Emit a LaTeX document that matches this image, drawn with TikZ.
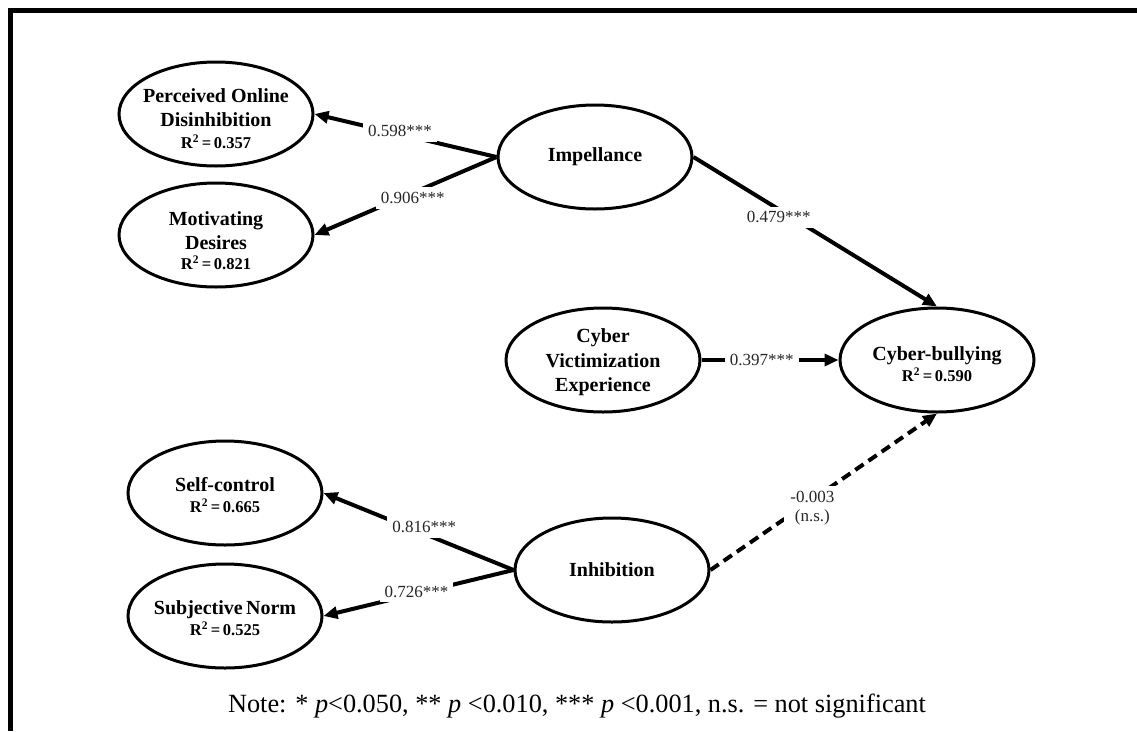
\documentclass[tikz,border=0pt]{standalone}
\usepackage{fontspec}
\setmainfont{Liberation Serif}
\usetikzlibrary{shapes.geometric,arrows.meta}
\newcommand\Rsqline[1]{{\fontsize{16.5}{20}\selectfont R\textsuperscript{2}\,=\,#1}}
\begin{document}
\begin{tikzpicture}[x=1pt,y=-1pt,
  lv/.style={ellipse, draw, line width=3pt, minimum width=194pt, minimum height=104pt, inner sep=0pt},
  lvtext/.style={font=\fontsize{20}{24}\selectfont\bfseries, align=center, inner sep=0pt},
  arr/.style={line width=4pt, -{Triangle[length=14pt,width=12pt]}},
  darr/.style={arr, dash pattern=on 10pt off 6pt},
  elabel/.style={font=\fontsize{17}{19}\selectfont, fill=white, inner sep=5pt, text=black!85, align=center},
  note/.style={font=\fontsize{26.3}{30}\selectfont, anchor=base, inner sep=0pt}
]
\useasboundingbox (0,0) rectangle (1137,731);
\draw[line width=4.4pt] (10.5,731) -- (10.5,10.5) -- (1137,10.5);

\node[lv, label={[lvtext, yshift=-5pt]center:Perceived Online\\Disinhibition\\[-2pt]\Rsqline{0.357}}] (pod) at (216,114) {};
\node[lv, label={[lvtext, yshift=-6pt]center:Motivating\\Desires\\[-4pt]\Rsqline{0.821}}] (md) at (216,235) {};
\node[lv, label={[lvtext]center:Impellance}] (imp) at (595,157) {};
\node[lv, label={[lvtext, yshift=-2pt]center:Cyber\\[1pt]Victimization\\Experience}] (cve) at (603,360) {};
\node[lv, label={[lvtext, yshift=-4pt]center:Cyber-bullying\\[-3pt]\Rsqline{0.590}}] (cb) at (937,360) {};
\node[lv, label={[lvtext, yshift=-2pt]center:Self-control\\[-3pt]\Rsqline{0.665}}] (sc) at (225,493) {};
\node[lv, label={[lvtext, yshift=-2pt]center:Subjective\,Norm\\[-3pt]\Rsqline{0.525}}] (sn) at (225,616) {};
\node[lv, label={[lvtext]center:Inhibition}] (inh) at (612,570) {};

\draw[arr] (imp.west) -- node[elabel, pos=0.53, yshift=3pt] {0.598***} (pod.east);
\draw[arr] (imp.west) -- node[elabel, pos=0.46, yshift=-5pt] {0.906***} (md.east);
\draw[arr] (imp.east) -- node[elabel, pos=0.35, yshift=-8pt] {0.479***} (cb.north);
\draw[arr] (cve.east) -- node[elabel, pos=0.44] {0.397***} (cb.west);
\draw[darr] (inh.east) -- node[elabel, pos=0.45, yshift=-9pt, inner sep=6pt] {-0.003\\(n.s.)} (cb.south);
\draw[arr] (inh.west) -- node[elabel, pos=0.47, yshift=7pt] {0.816***} (sc.east);
\draw[arr] (inh.west) -- node[elabel, pos=0.51, yshift=2pt] {0.726***} (sn.east);

\node[note] (nt) at (577,712) {Note: * \textit{p}<0.050, ** \textit{p} <0.010, *** \textit{p} <0.001, n.s. = not significant};
\end{tikzpicture}
\end{document}
